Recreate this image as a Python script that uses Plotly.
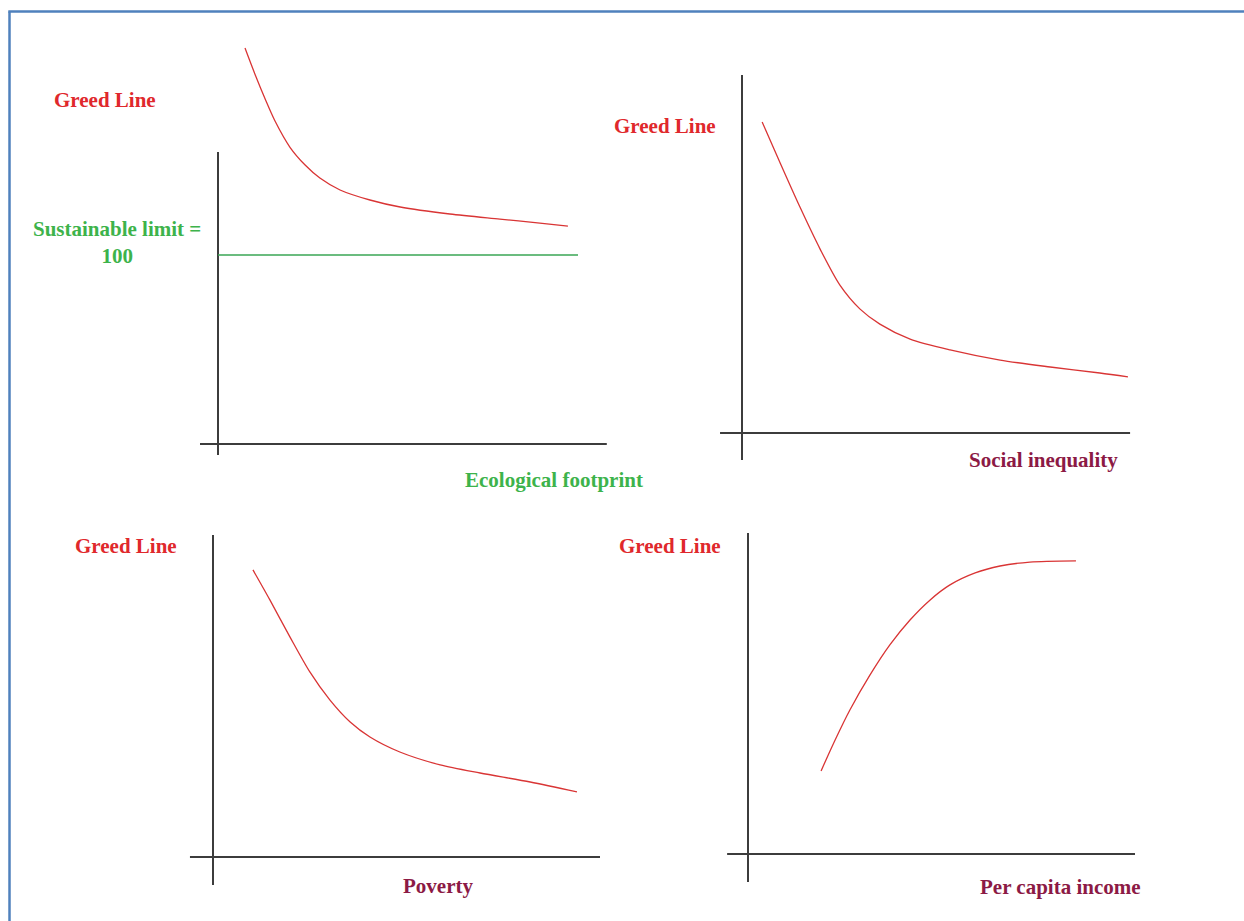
import plotly.graph_objects as go

W, H = 1244, 921

# ---------------- data ----------------
# Panel 1: Greed line vs ecological footprint (with sustainable limit = 100)
eco_x = [7.5, 10.3, 13.1, 15.8, 20.0, 24.2, 28.3, 33.9, 42.2, 50.6, 64.4, 78.3, 89.4, 97.2]
eco_y = [209.5, 195.5, 182.5, 171.0, 157.0, 147.6, 140.7, 134.4, 129.1, 125.4, 121.7, 119.0, 116.9, 115.3]
limit_x = [0, 100]
limit_value = 100

# Panel 2: Greed line vs social inequality
ineq_x = [5.6, 10.6, 16.1, 21.7, 27.2, 32.8, 38.3, 46.7, 57.8, 71.7, 85.6, 99.4, 107.2]
ineq_y = [103.7, 90.0, 75.3, 61.3, 49.3, 41.3, 36.3, 31.3, 27.7, 24.3, 22.0, 20.0, 18.7]

# Panel 3: Greed line vs poverty
pov_x = [11.1, 15.8, 21.4, 26.9, 32.5, 38.1, 43.6, 51.9, 63.1, 74.2, 88.1, 101.1]
pov_y = [95.7, 85.7, 73.3, 61.7, 52.3, 45.0, 40.0, 35.0, 30.7, 28.0, 25.0, 21.7]

# Panel 4: Greed line vs per capita income
inc_x = [20.3, 24.2, 28.3, 33.9, 39.4, 45.0, 50.6, 56.1, 63.1, 70.0, 78.3, 91.1]
inc_y = [27.7, 38.0, 48.0, 59.7, 69.7, 78.0, 84.7, 89.7, 93.7, 96.0, 97.3, 97.7]

# axis extents (data units) per panel: (x_min, x_max, y_min, y_max)
axis_ext = {
    1: (-5.0, 108.0, -5.8, 154.5),
    2: (-6.1, 107.8, -9.0, 119.3),
    3: (-6.4, 107.5, -9.3, 107.3),
    4: (-5.8, 107.5, -9.3, 107.0),
}

# ---------------- layout geometry (pixels) ----------------
geom = {
    1: dict(ox=218, oy=444, sx=3.6, sy=1.89, xr=(-7, 112), yr=(-8, 214)),
    2: dict(ox=742, oy=433, sx=3.6, sy=3.0, xr=(-8, 111), yr=(-11, 121)),
    3: dict(ox=213, oy=857, sx=3.6, sy=3.0, xr=(-8, 111), yr=(-11, 109)),
    4: dict(ox=748, oy=854, sx=3.6, sy=3.0, xr=(-8, 111), yr=(-11, 109)),
}

RED = "#d93535"
AXIS = "#3c3c3c"
GREEN = "#3aa655"

fig = go.Figure()

def ax_names(i):
    return ("x" if i == 1 else f"x{i}", "y" if i == 1 else f"y{i}")

curves = {1: (eco_x, eco_y), 2: (ineq_x, ineq_y), 3: (pov_x, pov_y), 4: (inc_x, inc_y)}

for i in range(1, 5):
    xa, ya = ax_names(i)
    x0, x1, y0, y1 = axis_ext[i]
    fig.add_trace(go.Scatter(x=[x0, x1], y=[0, 0], mode="lines", xaxis=xa, yaxis=ya,
                             line=dict(color=AXIS, width=2), hoverinfo="skip"))
    fig.add_trace(go.Scatter(x=[0, 0], y=[y0, y1], mode="lines", xaxis=xa, yaxis=ya,
                             line=dict(color=AXIS, width=2), hoverinfo="skip"))
    cx, cy = curves[i]
    fig.add_trace(go.Scatter(x=cx, y=cy, mode="lines", xaxis=xa, yaxis=ya,
                             line=dict(color=RED, width=1.3, shape="spline", smoothing=0.8)))

fig.add_trace(go.Scatter(x=limit_x, y=[limit_value] * len(limit_x), mode="lines",
                         xaxis="x", yaxis="y", line=dict(color=GREEN, width=1.5)))

layout = dict(width=W, height=H, margin=dict(l=0, r=0, t=0, b=0),
              paper_bgcolor="white", plot_bgcolor="rgba(0,0,0,0)", showlegend=False)

for i in range(1, 5):
    g = geom[i]
    xd = [(g["ox"] + g["xr"][0] * g["sx"]) / W, (g["ox"] + g["xr"][1] * g["sx"]) / W]
    yd = [1 - (g["oy"] - g["yr"][0] * g["sy"]) / H, 1 - (g["oy"] - g["yr"][1] * g["sy"]) / H]
    xd = [max(0, min(1, v)) for v in xd]
    yd = [max(0, min(1, v)) for v in yd]
    xa, ya = ax_names(i)
    xkey = "xaxis" if i == 1 else f"xaxis{i}"
    ykey = "yaxis" if i == 1 else f"yaxis{i}"
    layout[xkey] = dict(domain=xd, range=list(g["xr"]), visible=False, anchor=ya, fixedrange=True)
    layout[ykey] = dict(domain=yd, range=list(g["yr"]), visible=False, anchor=xa, fixedrange=True)

fig.update_layout(**layout)

FONT = "Liberation Serif, Times New Roman, serif"
GREED_RED = "#e0282c"
LABEL_GREEN = "#3db34b"
MAROON = "#8c1a45"

def txt(text, px, py, color):
    fig.add_annotation(text=f"<b>{text}</b>", x=px / W, y=1 - py / H, xref="paper", yref="paper",
                       xanchor="center", yanchor="middle", showarrow=False, align="center",
                       font=dict(family=FONT, size=21, color=color))

txt("Greed Line", 105, 100, GREED_RED)
txt("Sustainable limit =<br>100", 117, 242, LABEL_GREEN)
txt("Ecological footprint", 554, 480, LABEL_GREEN)
txt("Greed Line", 665, 126, GREED_RED)
txt("Social inequality", 1043, 460, MAROON)
txt("Greed Line", 126, 546, GREED_RED)
txt("Poverty", 438, 886, MAROON)
txt("Greed Line", 670, 546, GREED_RED)
txt("Per capita income", 1060, 887, MAROON)

# blue frame (left and top edges)
BLUE = "#4f81bd"
fig.add_shape(type="line", xref="paper", yref="paper", x0=9.5 / W, x1=9.5 / W, y0=0, y1=1 - 11.5 / H,
              line=dict(color=BLUE, width=2.5))
fig.add_shape(type="line", xref="paper", yref="paper", x0=8.3 / W, x1=1, y0=1 - 11.5 / H, y1=1 - 11.5 / H,
              line=dict(color=BLUE, width=2.5))

fig.write_html("out.html", config={"displayModeBar": False},
               post_script="document.body.style.margin='0';document.body.style.overflow='hidden';")
